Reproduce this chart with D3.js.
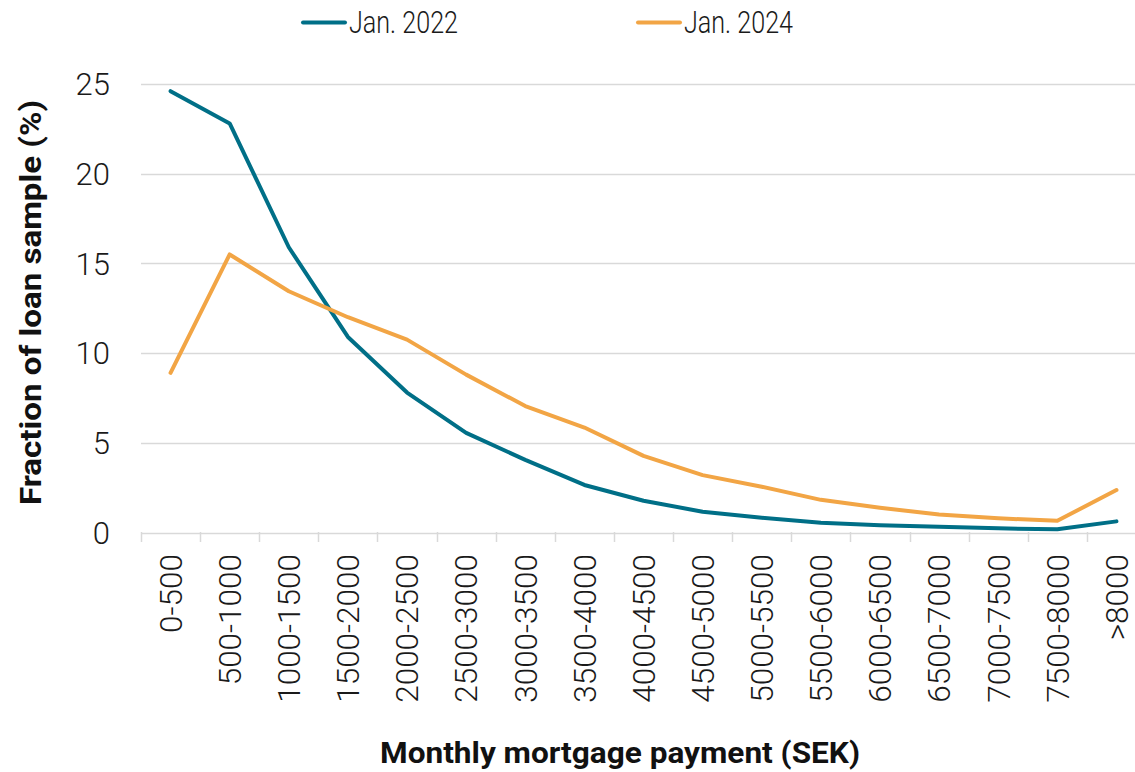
<!DOCTYPE html>
<html>
<head>
<meta charset="utf-8">
<script src="https://cdn.jsdelivr.net/npm/d3@7"></script>
<style>
  body { margin: 0; background: #fff; }
  svg { display: block; font-family: Roboto, "Liberation Sans", sans-serif; }
</style>
</head>
<body>
<svg id="chart" width="1135" height="772"></svg>
<script>
// Monthly mortgage payment buckets (SEK)
var categories = ["0-500", "500-1000", "1000-1500", "1500-2000", "2000-2500", "2500-3000",
  "3000-3500", "3500-4000", "4000-4500", "4500-5000", "5000-5500", "5500-6000",
  "6000-6500", "6500-7000", "7000-7500", "7500-8000", ">8000"];

// fraction of loan sample (%)
var jan2022 = [24.6, 22.8, 15.9, 10.9, 7.8, 5.55, 4.05, 2.65, 1.77, 1.16, 0.82, 0.55, 0.4, 0.32, 0.23, 0.18, 0.62];
var jan2024 = [8.9, 15.5, 13.45, 12.0, 10.75, 8.8, 7.05, 5.85, 4.27, 3.2, 2.55, 1.82, 1.38, 1.0, 0.79, 0.65, 2.37];

var yTicks = [0, 5, 10, 15, 20, 25];
var seriesNames = ["Jan. 2022", "Jan. 2024"];
var seriesColors = ["#006f87", "#f2a545"];

var svg = d3.select("#chart");

var x = d3.scaleBand()
    .domain(categories)
    .range([141, 1146]);

var y = d3.scaleLinear()
    .domain([0, 25])
    .range([532.5, 84]);

// gridlines
svg.append("g")
    .selectAll("line")
    .data(yTicks)
    .join("line")
    .attr("x1", 141)
    .attr("x2", 1135)
    .attr("y1", function(d) { return Math.round(y(d)) + 0.5; })
    .attr("y2", function(d) { return Math.round(y(d)) + 0.5; })
    .attr("stroke", "#d9d9d9")
    .attr("stroke-width", 1.5);

// y labels
svg.append("g")
    .selectAll("text")
    .data(yTicks)
    .join("text")
    .attr("x", 110)
    .attr("y", function(d) { return y(d); })
    .attr("dy", "0.36em")
    .attr("text-anchor", "end")
    .attr("font-size", 31)
    .attr("font-weight", 300)
    .attr("fill", "#1a1a1a")
    .text(function(d) { return d; });

// x axis ticks at band edges
var edges = categories.map(function(c) { return x(c); });
svg.append("g")
    .selectAll("line")
    .data(edges)
    .join("line")
    .attr("x1", function(d) { return Math.round(d) + 0.5; })
    .attr("x2", function(d) { return Math.round(d) + 0.5; })
    .attr("y1", 532)
    .attr("y2", 542)
    .attr("stroke", "#d9d9d9")
    .attr("stroke-width", 1.5);

// x labels, rotated
svg.append("g")
    .selectAll("text")
    .data(categories)
    .join("text")
    .attr("transform", function(d) {
        return "translate(" + (x(d) + x.bandwidth() / 2) + ",554) rotate(-90)";
    })
    .attr("dy", "0.36em")
    .attr("text-anchor", "end")
    .attr("font-size", 31.5)
    .attr("font-weight", 300)
    .attr("fill", "#1a1a1a")
    .text(function(d) { return d; });

// lines
var line = d3.line()
    .x(function(d, i) { return x(categories[i]) + x.bandwidth() / 2; })
    .y(function(d) { return y(d); });

[jan2022, jan2024].forEach(function(vals, k) {
    svg.append("path")
        .datum(vals)
        .attr("d", line)
        .attr("fill", "none")
        .attr("stroke", seriesColors[k])
        .attr("stroke-width", 4)
        .attr("stroke-linejoin", "round")
        .attr("stroke-linecap", "round");
});

// legend
var legendX = [303, 638];
seriesNames.forEach(function(name, k) {
    var g = svg.append("g").attr("transform", "translate(" + legendX[k] + ",22.5)");
    g.append("line")
        .attr("x1", 0).attr("x2", 42)
        .attr("stroke", seriesColors[k])
        .attr("stroke-width", 4)
        .attr("stroke-linecap", "round");
    g.append("text")
        .attr("x", 46)
        .attr("y", 10.5)
        .attr("font-size", 32)
        .attr("font-weight", 300)
        .attr("fill", "#1a1a1a")
        .attr("textLength", 109)
        .attr("lengthAdjust", "spacingAndGlyphs")
        .text(name);
});

// axis titles
svg.append("text")
    .attr("transform", "translate(41,302.5) rotate(-90)")
    .attr("text-anchor", "middle")
    .attr("font-size", 30)
    .attr("font-weight", 700)
    .attr("fill", "#111")
    .attr("textLength", 405)
    .attr("lengthAdjust", "spacingAndGlyphs")
    .text("Fraction of loan sample (%)");

svg.append("text")
    .attr("x", 620)
    .attr("y", 763)
    .attr("text-anchor", "middle")
    .attr("font-size", 30)
    .attr("font-weight", 700)
    .attr("fill", "#111")
    .attr("textLength", 480)
    .attr("lengthAdjust", "spacingAndGlyphs")
    .text("Monthly mortgage payment (SEK)");
</script>
</body>
</html>
